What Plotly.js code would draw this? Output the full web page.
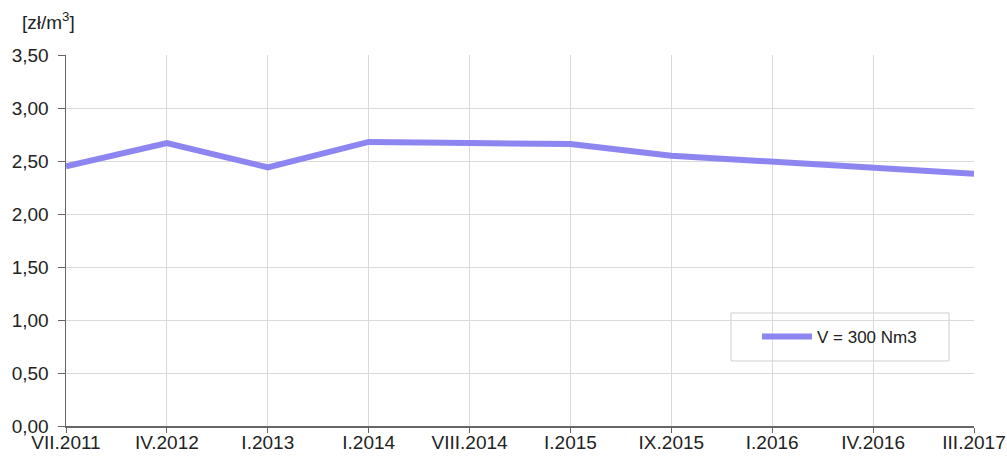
<!DOCTYPE html>
<html>
<head>
<meta charset="utf-8">
<script src="https://cdn.plot.ly/plotly-3.0.1.min.js"></script>
<style>
  html, body { margin: 0; padding: 0; background: #fff; }
  #chart { width: 1007px; height: 459px; }
</style>
</head>
<body>
<div id="chart"></div>
<script>
// okresy (oś X)
const periods = ['VII.2011', 'IV.2012', 'I.2013', 'I.2014', 'VIII.2014',
                 'I.2015', 'IX.2015', 'I.2016', 'IV.2016', 'III.2017'];
// cena [zł/m3] dla V = 300 Nm3
const price300 = [2.45, 2.67, 2.44, 2.68, 2.67, 2.66, 2.55, 2.49, 2.44, 2.38];
const seriesName = 'V = 300 Nm3';
const yTicks = [0, 0.5, 1, 1.5, 2, 2.5, 3, 3.5];

const lineColor = '#8d86f0';
const fam = 'Liberation Sans, Arial, sans-serif';
const axisFont = {family: fam, size: 19, color: '#222'};

let data = [{
    x: periods,
    y: price300,
    type: 'scatter',
    mode: 'lines',
    name: seriesName,
    line: {color: lineColor, width: 6},
    hoverinfo: 'x+y'
}];

let layout = {
    width: 1007,
    height: 459,
    margin: {l: 66, r: 33, t: 55, b: 33},
    paper_bgcolor: '#fff',
    plot_bgcolor: '#fff',
    separators: ', ',
    showlegend: true,
    font: {family: fam, color: '#222'},
    xaxis: {
        type: 'category',
        range: [0, periods.length - 1],
        showgrid: true,
        gridcolor: '#dadada',
        gridwidth: 1,
        showline: true,
        linecolor: '#666',
        linewidth: 1.5,
        ticks: 'outside',
        ticklen: 5,
        tickcolor: '#666',
        tickfont: axisFont,
        ticklabelstandoff: -6,
        fixedrange: true,
        zeroline: false
    },
    yaxis: {
        range: [0, 3.5],
        tickvals: yTicks,
        tickformat: '.2f',
        showgrid: true,
        gridcolor: '#dadada',
        gridwidth: 1,
        showline: true,
        linecolor: '#666',
        linewidth: 1.5,
        ticks: 'outside',
        ticklen: 7,
        tickcolor: '#666',
        tickfont: axisFont,
        ticklabelstandoff: 5,
        fixedrange: true,
        zeroline: false
    },
    legend: {
        x: 0.761, y: 0.24,
        xanchor: 'left', yanchor: 'middle',
        bgcolor: 'rgba(0,0,0,0)',
        borderwidth: 0,
        itemwidth: 50,
        font: {family: fam, size: 17, color: '#222'}
    },
    shapes: [{
        // ramka legendy
        type: 'rect',
        xref: 'paper', yref: 'paper',
        x0: 0.7324, x1: 0.9725, y0: 0.1752, y1: 0.3046,
        fillcolor: '#fff',
        line: {color: '#cfcfcf', width: 1},
        layer: 'below'
    }],
    annotations: [{
        text: '[zł/m<sup>3</sup>]',
        xref: 'paper', yref: 'paper',
        x: -0.0507, y: 1.0, yshift: 20,
        xanchor: 'left', yanchor: 'bottom',
        showarrow: false,
        font: {family: fam, size: 19, color: '#222'}
    }]
};

let options = {displayModeBar: false, staticPlot: true};

Plotly.newPlot('chart', data, layout, options);
</script>
</body>
</html>
